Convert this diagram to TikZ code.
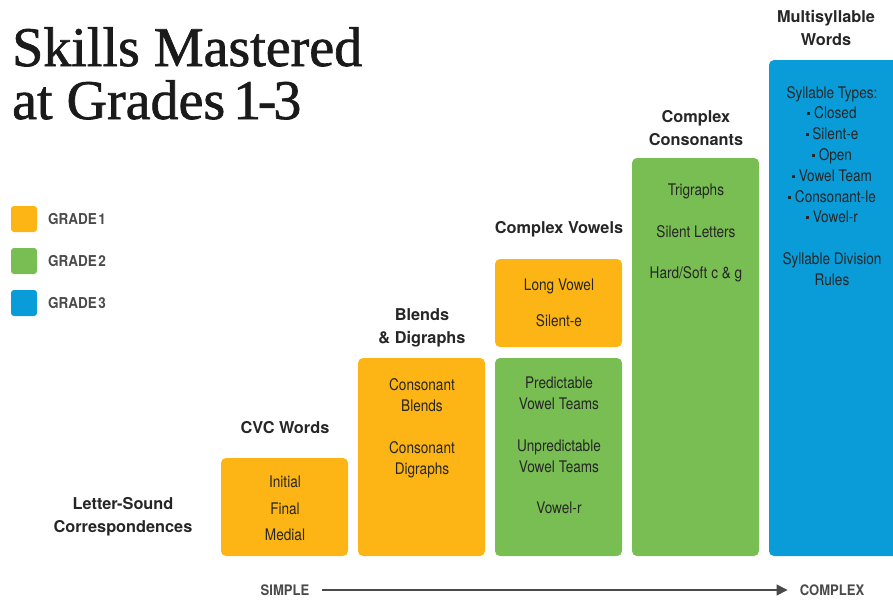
\documentclass[tikz,border=0pt]{standalone}
\usepackage{fontspec}
\setmainfont{Liberation Serif}
\newfontfamily\ttlfont[FakeBold=1.2]{Liberation Serif}
\newfontfamily\hsans{TeX Gyre Heros}
\newfontfamily\bsans[FakeStretch=0.85]{TeX Gyre Heros}
\newfontfamily\lsans[FakeStretch=0.9]{TeX Gyre Heros}
\usetikzlibrary{arrows.meta}
\definecolor{cOr}{HTML}{FDB515}
\definecolor{cGr}{HTML}{78BE53}
\definecolor{cBl}{HTML}{0A9CD8}
\definecolor{cTx}{HTML}{262626}
\definecolor{cGy}{HTML}{4A4A4A}
\definecolor{cTi}{HTML}{1A1A1A}
\newcommand{\sqb}{\raisebox{3.5pt}{\rule{3pt}{3pt}}\ }
\begin{document}
\begin{tikzpicture}[x=1pt,y=-1pt,
  box/.style={rounded corners=5pt, minimum width=127pt, inner sep=0pt, draw=none},
  body/.style={font=\bsans\fontsize{16}{21}\selectfont, text=cTx, align=center, inner sep=0pt, anchor=north},
  head/.style={font=\hsans\bfseries\fontsize{16.3}{23.5}\selectfont, text=cTx, align=center, inner sep=0pt, anchor=north},
  leg/.style={font=\lsans\bfseries\fontsize{15}{17}\selectfont, text=cGy, anchor=west, inner sep=0pt},
  swatch/.style={rounded corners=3pt, minimum size=26pt, inner sep=0pt},
  ttl/.style={font=\ttlfont\fontsize{56}{53}\selectfont, text=cTi, anchor=base west, inner sep=0pt},
  axis/.style={font=\lsans\bfseries\fontsize{14.5}{16}\selectfont, text=cGy, inner sep=0pt},
]
\useasboundingbox (0,0) rectangle (893,600);

% title
\node[ttl] (title1) at (12,66) {Skills Mastered};
\node[ttl] (title2) at (12,119) {at Grades\kern-6pt\ 1\kern-3.5pt-\kern-3pt3};

% legend
\node[swatch, fill=cOr] (sw1) at (24,219) {};
\node[swatch, fill=cGr] (sw2) at (24,261) {};
\node[swatch, fill=cBl] (sw3) at (24,303) {};
\node[leg] (lg1) at (48,219) {GRADE\kern1.5pt1};
\node[leg] (lg2) at (48,261) {GRADE\kern1.5pt2};
\node[leg] (lg3) at (48,303) {GRADE\kern1.5pt3};

% boxes
\node[box, fill=cOr, minimum height=98pt] (cvcbox) at (284.5,507) {};
\node[box, fill=cOr, minimum height=198pt] (blbox) at (421.5,457) {};
\node[box, fill=cOr, minimum height=88pt] (lvbox) at (558.5,303) {};
\node[box, fill=cGr, minimum height=198pt] (pvbox) at (558.5,457) {};
\node[box, fill=cGr, minimum height=398pt] (ccbox) at (695.5,357) {};
\node[box, fill=cBl, minimum width=130pt, minimum height=496pt] (msbox) at (834,308) {};

% headers
\node[head] (lsh) at (123,497) {Letter-Sound\\Correspondences};
\node[head] (cvch) at (285,421) {CVC Words};
\node[head] (blh) at (422,308) {Blends\\\& Digraphs};
\node[head] (cvh) at (559,221) {Complex Vowels};
\node[head] (cch) at (696,110) {Complex\\Consonants};
\node[head] (msh) at (826,10) {Multisyllable\\Words};

% body texts
\node[body] (cvct) at (285,476) {Initial\\[5.5pt]Final\\[5.5pt]Medial};
\node[body] (blt) at (422,378) {Consonant\\Blends\\[21pt]Consonant\\Digraphs};
\node[body] (lvt) at (559,279) {Long Vowel\\[15pt]Silent-e};
\node[body] (pvt) at (559,377) {Predictable\\Vowel Teams\\[21pt]Unpredictable\\Vowel Teams\\[20pt]Vowel-r};
\node[body] (cct) at (696,184) {Trigraphs\\[20.5pt]Silent Letters\\[20.5pt]Hard/Soft c \& g};
\node[body, font=\bsans\fontsize{16}{20.8}\selectfont] (mst) at (832,86)
  {Syllable Types:\\\sqb Closed\\\sqb Silent-e\\\sqb Open\\\sqb Vowel Team\\\sqb Consonant-le\\\sqb Vowel-r\\[21pt]Syllable Division\\Rules};

% axis
\node[axis] (simple) at (285,590) {SIMPLE};
\node[axis] (complex) at (832,590) {COMPLEX};
\draw[cGy, line width=1.2pt, -{Triangle[length=11pt,width=11pt]}, shorten <=13pt, shorten >=12pt] (simple) -- (complex);
\end{tikzpicture}
\end{document}
